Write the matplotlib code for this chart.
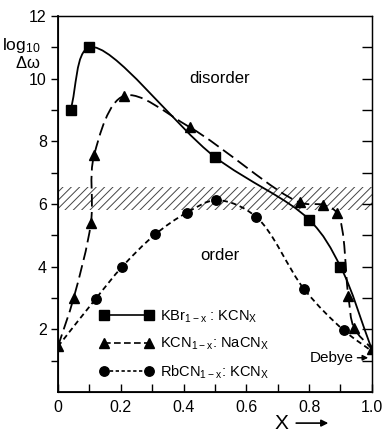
import matplotlib
matplotlib.use('Agg')
import matplotlib.pyplot as plt
import numpy as np
from matplotlib.path import Path
from matplotlib.patches import PathPatch
from matplotlib.lines import Line2D

plt.rcParams['font.family'] = ['Liberation Sans', 'DejaVu Sans']
plt.rcParams['mathtext.default'] = 'regular'
plt.rcParams['hatch.linewidth'] = 0.7

# KBr(1-x):KCN(x)  squares, solid
kbr_x = [0.04, 0.10, 0.50, 0.80, 0.90]
kbr_y = [9.0, 11.0, 7.5, 5.5, 4.0]
kbr_end = [1.0, 1.35]

# KCN(1-x):NaCN(x)  triangles, long dash
tri_x = [0.0, 0.05, 0.105, 0.115, 0.21, 0.42, 0.77, 0.845, 0.89, 0.925, 0.943, 1.0]
tri_y = [1.45, 3.0, 5.4, 7.55, 9.45, 8.45, 6.05, 5.97, 5.7, 3.05, 2.05, 1.37]

# RbCN(1-x):KCN(x)  circles, short dash
circ_x = [0.12, 0.205, 0.31, 0.41, 0.505, 0.63, 0.785, 0.91]
circ_y = [2.97, 4.0, 5.03, 5.72, 6.12, 5.6, 3.27, 1.97]
circ_start = [0.0, 1.45]
circ_end = [1.0, 1.3]

band = [5.8, 6.55]

labels = [r'KBr$_{1-x}$ : KCN$_X$', r'KCN$_{1-x}$: NaCN$_X$', r'RbCN$_{1-x}$: KCN$_X$']


def smooth_path(xs, ys, sx=314.0, sy=31.3, alpha=0.5):
    # centripetal catmull-rom drawn as cubic bezier segments
    p = np.column_stack([np.asarray(xs) * sx, np.asarray(ys) * sy])
    pts = np.vstack([p[0], p, p[-1]])
    verts = [tuple(p[0])]
    codes = [Path.MOVETO]
    for i in range(1, len(pts) - 2):
        p0, p1, p2, p3 = pts[i - 1], pts[i], pts[i + 1], pts[i + 2]
        d1 = np.linalg.norm(p1 - p0) ** alpha
        d2 = np.linalg.norm(p2 - p1) ** alpha
        d3 = np.linalg.norm(p3 - p2) ** alpha
        if d1 < 1e-9:
            b1 = p1 + (p2 - p1) / 3
        else:
            b1 = (d1**2 * p2 - d2**2 * p0 + (2*d1**2 + 3*d1*d2 + d2**2) * p1) / (3*d1*(d1 + d2))
        if d3 < 1e-9:
            b2 = p2 - (p2 - p1) / 3
        else:
            b2 = (d3**2 * p1 - d2**2 * p3 + (2*d3**2 + 3*d3*d2 + d2**2) * p2) / (3*d3*(d3 + d2))
        verts += [tuple(b1), tuple(b2), tuple(p2)]
        codes += [Path.CURVE4] * 3
    verts = [(u / sx, v / sy) for u, v in verts]
    return Path(verts, codes)


fig = plt.figure(figsize=(3.89, 4.34), dpi=100)
ax = fig.add_axes([0.149, 0.097, 0.807, 0.866])
ax.set_xlim(0, 1.0)
ax.set_ylim(0, 12)

ax.fill_between([0, 1.0], band[0], band[1], facecolor='none', edgecolor='#444444',
                hatch='////', linewidth=0, zorder=1)

lw = 1.3
ax.add_patch(PathPatch(smooth_path(kbr_x + [kbr_end[0]], kbr_y + [kbr_end[1]]),
                       fill=False, lw=lw, color='black', zorder=2))
ax.add_patch(PathPatch(smooth_path(tri_x, tri_y), fill=False, lw=lw, color='black',
                       linestyle=(0, (7, 3)), zorder=2))
ax.add_patch(PathPatch(smooth_path([circ_start[0]] + circ_x + [circ_end[0]],
                                   [circ_start[1]] + circ_y + [circ_end[1]]),
                       fill=False, lw=lw, color='black', linestyle=(0, (3, 2)), zorder=2))

ax.plot(kbr_x, kbr_y, 's', color='black', ms=6.8, zorder=3)
ax.plot(tri_x, tri_y, '^', color='black', ms=7, zorder=3)
ax.plot(circ_x, circ_y, 'o', color='black', ms=6.8, zorder=3)

handles = [
    Line2D([], [], color='black', lw=1.2, marker='s', ms=6.8),
    Line2D([], [], color='black', lw=1.2, marker='^', ms=7, linestyle=(0, (4, 2))),
    Line2D([], [], color='black', lw=1.2, marker='o', ms=6.8, linestyle=(0, (2, 1.5))),
]
ax.legend(handles, labels, loc='upper left', bbox_to_anchor=(0.134, 0.222), frameon=False,
          numpoints=2, handlelength=3.65, handletextpad=0.45, labelspacing=0.75,
          borderpad=0, borderaxespad=0, fontsize=10.5)

ax.text(0.515, 10.0, 'disorder', ha='center', va='center', fontsize=12)
ax.text(0.515, 4.37, 'order', ha='center', va='center', fontsize=12)
ax.text(0.872, 1.09, 'Debye', ha='center', va='center', fontsize=11)
ax.annotate('', xy=(0.997, 1.09), xytext=(0.945, 1.09),
            arrowprops=dict(arrowstyle='-|>', color='black', lw=1, mutation_scale=8))

ax.text(-0.118, 0.922, r'log$_{10}$', transform=ax.transAxes, ha='center', va='center', fontsize=12.5)
ax.text(-0.097, 0.875, r'$\Delta\omega$', transform=ax.transAxes, ha='center', va='center', fontsize=12)

ax.text(0.713, -0.083, 'X', transform=ax.transAxes, ha='center', va='center', fontsize=15)
ax.annotate('', xy=(0.87, -0.083), xytext=(0.75, -0.083), xycoords='axes fraction',
            textcoords='axes fraction',
            arrowprops=dict(arrowstyle='-|>', color='black', lw=1.2, mutation_scale=10))

ax.set_xticks(np.arange(0, 1.01, 0.2))
ax.set_xticklabels(['0', '0.2', '0.4', '0.6', '0.8', '1.0'])
ax.set_xticks(np.arange(0.1, 1.0, 0.2), minor=True)
ax.tick_params(axis='x', which='both', direction='in', length=6, width=1, labelsize=11.5, pad=6)

ax.set_yticks([2, 4, 6, 8, 10, 12])
ax.set_yticks([1, 3, 5, 7, 9, 11], minor=True)
ax.tick_params(axis='y', which='both', direction='out', length=5, width=1, labelsize=11.5, pad=3)

ax2 = ax.twinx()
ax2.set_ylim(0, 12)
ax2.set_yticks(range(1, 12))
ax2.tick_params(axis='y', direction='in', length=7, width=1, labelright=False)

for s in ['left', 'bottom']:
    ax.spines[s].set_linewidth(1.3)
for s in ['top', 'right']:
    ax.spines[s].set_linewidth(0.9)
    ax2.spines[s].set_linewidth(0.9)

fig.savefig('out.png', dpi=100)
